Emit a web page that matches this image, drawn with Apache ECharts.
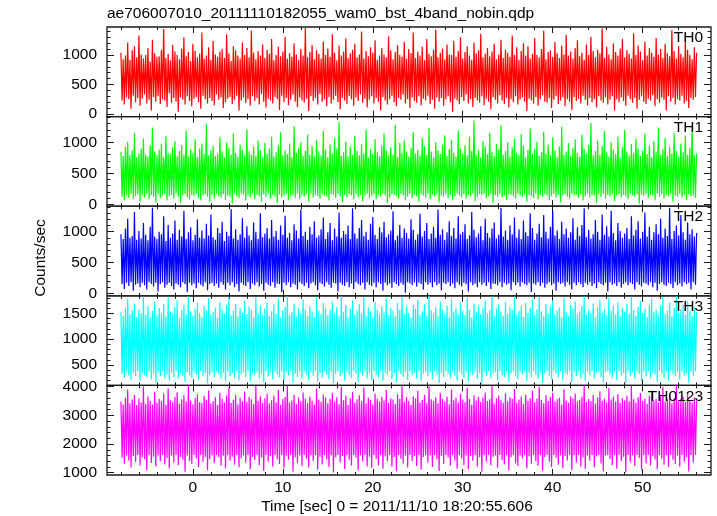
<!DOCTYPE html>
<html><head><meta charset="utf-8">
<script src="https://cdn.jsdelivr.net/npm/echarts@6/dist/echarts.min.js"></script>
<style>html,body{margin:0;padding:0;background:#fff}#c{width:717px;height:516px}</style>
</head><body><div id="c"></div>
<script>
// ---- data (estimated from the reference light curves; alternating high / low excursions, 0.125 s spacing) ----
const T_START = -8;
const T_STEP = 0.125;
const TITLE = 'ae706007010_20111110182055_wam0_bst_4band_nobin.qdp';
const X_NAME = 'Time [sec] 0 = 2011/11/10 18:20:55.606';
const Y_NAME = 'Counts/sec';
const PANEL_NAMES = ['TH0', 'TH1', 'TH2', 'TH3', 'TH0123'];

const X_MAJOR = [0, 10, 20, 30, 40, 50];
const X_MINOR = [-8,-6,-4,-2,0,2,4,6,8,10,12,14,16,18,20,22,24,26,28,30,32,34,36,38,40,42,44,46,48,50,52,54,56];

const Y_MAJOR_TH0 = [0, 500, 1000];
const Y_MINOR_TH0 = [0,100,200,300,400,500,600,700,800,900,1000,1100,1200,1300,1400];
const Y_MAJOR_TH1 = [0, 500, 1000];
const Y_MINOR_TH1 = [0,100,200,300,400,500,600,700,800,900,1000,1100,1200,1300,1400];
const Y_MAJOR_TH2 = [0, 500, 1000];
const Y_MINOR_TH2 = [0,100,200,300,400,500,600,700,800,900,1000,1100,1200,1300,1400];
const Y_MAJOR_TH3 = [500, 1000, 1500];
const Y_MINOR_TH3 = [200,300,400,500,600,700,800,900,1000,1100,1200,1300,1400,1500,1600,1700,1800];
const Y_MAJOR_TH0123 = [1000, 2000, 3000, 4000];
const Y_MINOR_TH0123 = [1000,1200,1400,1600,1800,2000,2200,2400,2600,2800,3000,3200,3400,3600,3800,4000];

const TH0 = [
1040,230,930,160,990,280,1210,250,920,90,1080,310,1150,200,960,270,
1330,140,1010,260,940,330,1000,180,1120,240,890,60,1260,290,1030,210,
970,300,980,170,1090,250,1440,230,950,120,1020,350,910,190,1170,270,
1060,210,1000,40,930,280,1110,240,1300,160,980,300,1050,220,900,130,
1190,260,1070,290,960,200,1020,90,1380,310,940,250,990,180,1130,270,
920,220,1240,150,1010,330,970,240,1060,280,1100,100,950,200,1350,260,
1030,290,900,170,1150,240,1080,310,990,60,940,230,1210,280,1000,190,
1120,250,960,140,1410,300,1040,220,930,270,1070,160,990,340,1180,210,
950,110,1090,260,1020,230,1270,180,910,290,1000,250,1140,70,980,310,
1060,200,1310,270,940,150,1030,240,970,330,1200,210,1010,120,920,280,
1100,230,990,190,1460,260,960,50,1050,300,1170,220,930,270,1080,160,
1020,340,940,210,1230,250,1000,130,1110,290,970,180,1350,240,1040,310,
910,200,1160,80,990,270,1060,230,1280,170,950,300,1030,250,1090,140,
1190,280,960,220,1010,330,1400,190,940,260,1070,110,980,240,1130,300,
1040,180,1250,270,920,210,990,60,1120,290,1010,230,960,160,1320,250,
1080,310,930,200,1050,130,1170,270,1000,240,970,330,1220,180,940,250,
1100,100,1030,280,1380,220,950,190,1060,300,990,150,1140,260,910,230,
1270,310,1020,170,980,240,1090,90,1430,280,960,210,1040,270,1110,140,
930,250,1180,300,1010,200,1000,40,1240,260,970,230,1070,170,1300,290,
940,220,1050,330,1150,180,990,250,920,120,1210,270,1030,230,1080,190,
1360,300,960,150,1020,260,1120,210,980,80,1060,290,1190,240,930,180,
1010,320,1260,230,950,170,1090,270,1040,110,970,250,1330,200,1000,300,
1130,160,920,240,1070,280,1200,210,990,50,1150,260,940,230,1020,180,
1290,290,1000,140,960,250,1100,320,1410,210,930,190,1050,270,1080,100,
970,240,1220,300,1030,170,950,230,1160,280,1010,130,1340,250,990,210,
1060,70,940,290,1120,220,1250,260,980,180,1040,310,920,240,1180,150,
1000,270,1310,200,1070,250,960,110,1090,300,1030,230,1450,190,950,280,
1140,160,1010,240,930,300,1200,60,1050,250,990,200,1110,280,1270,220,
960,140,1080,310,1020,250,940,190,1370,270,1000,90,1160,240,1060,300,
910,210,1230,170,990,260,1120,230,1040,320,970,130,1290,250,1010,190,
1100,280,950,240,1190,60,1030,300,980,210,1420,270,1070,160,940,250,
1150,230,1020,310,960,180,1260,220,1090,100,1000,270,930,240,1130,290,
1040];

const TH1 = [
840,120,780,60,930,150,1010,100,790,170,870,90,1150,130,760,160,
820,40,900,140,1060,110,800,170,770,80,950,150,1240,120,850,30,
790,160,880,100,980,140,760,170,1100,60,830,130,810,150,920,90,
1020,170,780,120,860,20,950,140,800,160,1190,110,770,80,890,150,
830,130,1050,170,760,100,900,60,980,140,810,160,1300,120,790,40,
870,150,940,90,780,170,820,130,1080,110,850,160,760,70,1000,140,
910,120,800,10,1140,160,830,130,770,100,960,170,880,150,790,60,
1210,140,850,110,800,170,930,80,780,150,1030,130,870,40,760,160,
990,120,820,170,900,90,1090,150,770,130,840,20,950,160,1160,110,
790,140,870,170,810,60,980,130,760,150,1260,100,830,170,910,80,
1000,140,780,120,860,160,1120,40,800,170,940,110,770,150,1040,130,
850,90,790,170,1180,140,880,120,760,60,960,160,820,150,1070,100,
900,170,1330,130,780,30,840,150,1010,110,770,160,930,140,800,80,
1100,170,860,120,790,150,970,50,820,140,1200,170,760,100,890,130,
810,160,1050,80,840,150,780,120,950,170,1140,140,870,20,790,110,
920,160,800,150,1280,130,760,90,990,170,830,140,1030,60,850,120,
770,170,910,100,1160,150,820,130,880,40,790,160,1070,140,940,110,
800,170,1230,80,850,150,760,130,1000,160,870,30,810,140,960,120,
1110,170,780,100,890,150,1040,60,830,130,770,170,1190,140,900,110,
820,160,950,90,790,150,1090,130,860,170,1350,50,800,120,880,160,
760,140,1020,170,930,100,810,130,1150,160,840,20,780,150,970,120,
890,170,1270,110,800,140,860,70,1000,160,770,150,920,130,1060,90,
830,170,790,140,1130,120,950,160,760,40,880,150,1220,130,810,100,
900,170,1010,80,780,150,840,120,1170,160,820,140,960,60,790,130,
1080,170,870,110,760,150,930,30,1250,140,800,160,850,120,990,90,
780,170,910,140,1050,150,830,100,770,160,1120,60,890,130,820,170,
960,110,1310,150,790,140,860,20,1030,160,800,120,940,170,1180,90,
840,150,770,130,1000,160,880,50,810,140,1090,170,760,110,920,150,
1200,130,850,80,790,170,970,140,830,120,1060,160,900,10,780,150,
870,130,1140,170,810,100,950,150,760,140,1020,60,840,170,1240,120,
800,160,890,90,1070,150,780,130,930,170,820,40,1150,140,860,120,
770,170,980,110,840,150,1110,70,800,160,910,130,1270,140,790,100,
820];

const TH2 = [
960,150,880,70,1050,170,1210,120,900,180,930,40,1320,140,870,160,
1010,100,890,170,1140,130,950,60,860,180,1080,150,1390,110,920,170,
880,30,1000,150,960,180,1250,90,850,140,1110,170,900,120,970,60,
1180,160,870,140,1030,100,920,180,1340,150,880,20,990,170,1070,130,
860,160,950,80,1200,170,900,140,1020,110,890,180,1130,50,940,150,
1280,170,910,120,870,160,1060,90,980,180,1160,140,850,60,1000,170,
930,130,1370,180,890,100,1040,150,870,30,960,170,1220,140,900,120,
1090,180,940,70,860,160,1150,130,1000,180,880,110,1300,150,910,40,
970,170,1060,140,890,120,1190,180,920,90,1010,160,870,150,1100,20,
950,170,1260,130,900,180,980,100,860,160,1120,140,1020,60,890,180,
1360,150,930,120,1000,170,870,80,1080,160,960,180,1170,130,900,50,
940,170,1040,150,1230,110,880,180,990,140,1140,90,860,170,1050,160,
920,30,1310,170,900,140,1010,120,960,180,1100,100,880,160,1380,70,
970,180,890,150,1060,130,1190,170,930,60,1000,180,870,140,1130,120,
1240,170,950,100,880,180,1070,150,990,40,1160,170,910,130,960,160,
1020,90,1330,180,860,150,940,120,1110,170,900,140,1050,10,980,180,
890,160,1200,130,1030,180,870,110,960,170,1290,150,920,60,1010,180,
1140,140,880,170,970,100,1080,180,900,130,1360,160,950,50,1040,170,
870,150,990,180,1170,120,930,160,1060,80,890,180,1250,140,960,110,
1000,170,1120,150,880,30,940,180,1320,130,1030,160,910,100,970,180,
1090,140,860,170,1210,120,980,180,900,70,1050,160,1150,150,890,130,
950,180,1390,100,920,170,1020,140,870,160,1100,50,960,180,1230,130,
900,170,1040,110,880,180,1180,150,990,130,930,170,1300,20,1060,160,
870,140,970,180,1130,120,910,170,1270,90,1000,150,890,180,1080,130,
1350,160,940,40,1020,180,880,150,1160,170,960,110,1050,180,900,140,
990,60,1220,170,870,130,1070,180,930,150,1110,100,1380,170,910,140,
1030,180,890,120,960,160,1190,80,1000,180,870,150,1280,130,950,170,
1090,30,920,180,1340,140,980,160,860,120,1140,180,1010,90,900,150,
970,180,1060,130,880,170,1250,150,940,60,1030,180,1170,140,890,110,
1000,170,1310,160,920,130,1080,180,870,100,990,170,1120,40,960,150,
1210,180,900,140,1050,120,930,170,1390,150,880,80,1010,180,1100,130,
940,160,1270,110,990,180,870,150,1150,170,960,60,1040,180,920,140,
980];

const TH3 = [
1520,330,1450,250,1610,370,1780,290,1480,210,1560,350,1690,280,1430,380,
1580,190,1500,340,1820,300,1470,260,1640,370,1420,220,1550,330,1730,150,
1460,360,1600,280,1510,380,1680,240,1440,310,1800,200,1530,350,1490,270,
1620,380,1750,230,1410,330,1570,290,1660,170,1480,360,1830,300,1540,250,
1450,370,1590,320,1700,210,1500,380,1430,280,1640,340,1560,140,1790,300,
1470,360,1530,260,1610,380,1420,330,1720,230,1580,350,1490,190,1660,370,
1810,290,1460,340,1550,250,1680,380,1440,200,1600,320,1510,360,1740,270,
1480,380,1630,180,1570,340,1430,300,1820,370,1500,240,1650,330,1460,160,
1590,380,1710,280,1450,350,1540,220,1670,370,1490,310,1780,260,1420,380,
1560,200,1620,360,1830,300,1470,380,1530,150,1690,330,1440,270,1600,370,
1500,240,1760,380,1580,320,1450,210,1640,360,1520,290,1430,380,1800,180,
1550,340,1480,260,1700,380,1610,310,1460,230,1570,370,1730,140,1490,330,
1620,380,1440,280,1830,350,1530,200,1660,370,1420,300,1590,250,1750,380,
1470,330,1560,170,1680,360,1500,290,1810,380,1450,240,1610,340,1540,210,
1430,380,1720,310,1580,260,1490,370,1640,190,1520,350,1790,300,1460,380,
1600,230,1550,340,1440,160,1700,380,1570,320,1820,270,1480,360,1630,210,
1510,380,1420,300,1660,350,1590,240,1760,380,1470,190,1540,330,1680,370,
1450,280,1830,360,1560,220,1500,380,1620,310,1440,150,1730,350,1580,270,
1490,380,1650,330,1430,240,1780,370,1530,290,1600,200,1470,380,1710,320,
1550,260,1460,370,1800,180,1570,350,1420,300,1690,380,1520,230,1640,340,
1480,140,1610,370,1740,290,1500,380,1560,250,1830,330,1440,360,1590,210,
1670,380,1530,300,1450,260,1720,370,1490,170,1620,340,1570,380,1810,280,
1460,230,1550,360,1650,320,1430,380,1700,190,1510,350,1600,270,1770,380,
1470,310,1580,240,1820,370,1540,150,1440,340,1680,380,1500,290,1630,220,
1750,380,1480,330,1560,260,1610,370,1420,200,1790,350,1520,310,1450,380,
1660,170,1590,360,1730,280,1490,380,1540,240,1640,330,1830,190,1470,370,
1570,300,1500,380,1690,230,1430,350,1620,380,1760,270,1510,160,1580,360,
1460,380,1800,320,1550,250,1650,370,1480,210,1710,380,1440,300,1600,340,
1530,150,1680,380,1490,290,1820,360,1560,230,1450,380,1620,330,1740,190,
1500,370,1590,280,1430,380,1670,240,1780,350,1520,310,1570,170,1460,380,
1640,330,1810,260,1480,370,1550,200,1700,380,1440,320,1600,280,1830,360,
1510,220,1580,380,1660,300,1470,340,1730,150,1540,370,1450,290,1620,380,
1520];

const TH0123 = [
3480,1520,3380,1310,3620,1600,3900,1430,3420,1180,3550,1580,3710,1370,3360,1620,
3590,1250,3450,1540,4010,1470,3400,1080,3660,1610,3510,1340,3380,1560,3820,1220,
3440,1600,3570,1400,3500,1620,3760,1290,3370,1510,3940,1150,3530,1590,3460,1360,
3640,1620,3810,1270,3410,1550,3560,1450,3700,1030,3480,1600,4040,1410,3520,1300,
3390,1620,3600,1500,3740,1200,3460,1610,3430,1380,3680,1560,3540,1090,3870,1470,
3410,1600,3500,1330,3630,1620,3360,1540,3780,1240,3580,1590,3450,1150,3690,1610,
3960,1420,3430,1560,3540,1280,3720,1620,3380,1190,3610,1500,3490,1600,3830,1350,
3470,1620,3650,1120,3560,1550,3400,1440,4020,1610,3510,1260,3670,1530,3440,1060,
3600,1620,3750,1380,3420,1580,3530,1210,3690,1610,3460,1470,3890,1300,3370,1620,
3570,1160,3640,1590,4030,1450,3450,1620,3520,1040,3710,1540,3400,1330,3620,1600,
3490,1230,3800,1620,3580,1490,3430,1180,3660,1600,3510,1410,3380,1620,3940,1100,
3550,1560,3470,1290,3730,1620,3620,1460,3420,1200,3570,1610,3770,1010,3480,1540,
3630,1620,3390,1360,4000,1580,3530,1130,3680,1610,3360,1450,3590,1250,3820,1620,
3450,1530,3560,1090,3700,1600,3500,1390,3980,1620,3410,1220,3610,1560,3540,1170,
3380,1620,3760,1480,3580,1260,3480,1610,3650,1140,3520,1570,3880,1400,3440,1620,
3600,1210,3550,1550,3400,1050,3740,1620,3570,1490,4040,1320,3470,1600,3640,1190,
3510,1620,3370,1410,3670,1580,3590,1230,3850,1620,3460,1110,3540,1550,3720,1610,
3430,1350,4010,1600,3560,1200,3500,1620,3630,1470,3420,1060,3790,1580,3580,1300,
3480,1620,3660,1530,3390,1250,3900,1610,3530,1430,3610,1140,3450,1620,3750,1500,
3550,1270,3460,1600,3960,1120,3570,1580,3370,1420,3690,1620,3520,1220,3640,1540,
3470,1030,3620,1610,3800,1390,3500,1620,3560,1260,4030,1560,3410,1600,3590,1170,
3680,1620,3530,1440,3440,1290,3770,1610,3490,1080,3630,1550,3570,1620,3920,1330,
3450,1230,3550,1600,3660,1500,3400,1620,3720,1150,3510,1570,3600,1310,3860,1620,
3460,1400,3580,1240,4000,1610,3540,1070,3420,1550,3700,1620,3500,1380,3640,1200,
3790,1620,3480,1520,3560,1280,3610,1600,3380,1160,3910,1580,3520,1430,3440,1620,
3670,1090,3590,1610,3760,1350,3490,1620,3540,1210,3650,1540,4040,1130,3470,1600,
3570,1420,3500,1620,3710,1190,3410,1570,3620,1620,3840,1320,3510,1050,3580,1600,
3450,1620,3950,1480,3550,1260,3660,1610,3480,1140,3740,1620,3430,1400,3600,1560,
3530,1020,3690,1620,3490,1370,4020,1600,3560,1230,3440,1620,3630,1510,3780,1100,
3500,1610,3590,1330,3400,1620,3680,1250,3870,1580,3520,1460,3570,1120,3460,1620,
3650,1490,3990,1280,3480,1610,3550,1190,3730,1620,3420,1450,3600,1300,4030,1600,
3510,1210,3580,1620,3670,1380,3470,1540,3800,1040,3540,1610,3450,1350,3620,1620,
3500];

// ---- layout / style ----
const FONT = '"Liberation Sans", Arial, Helvetica, sans-serif';
const FS = 15.5;
const X_MIN = -9.55, X_MAX = 57.6;
const GRID_TOP = 27, PANEL_H = 89.6, GRID_LEFT = 107, GRID_RIGHT = 6;
const FRAME = '#1a1a1a';

const panels = [
  {name: PANEL_NAMES[0], color: '#ff0000', values: TH0, yMin: -44, yMax: 1475, major: Y_MAJOR_TH0, minor: Y_MINOR_TH0},
  {name: PANEL_NAMES[1], color: '#00ff00', values: TH1, yMin: -31, yMax: 1414, major: Y_MAJOR_TH1, minor: Y_MINOR_TH1},
  {name: PANEL_NAMES[2], color: '#0000ff', values: TH2, yMin: -41, yMax: 1414, major: Y_MAJOR_TH2, minor: Y_MINOR_TH2},
  {name: PANEL_NAMES[3], color: '#00ffff', values: TH3, yMin: 105, yMax: 1838, major: Y_MAJOR_TH3, minor: Y_MINOR_TH3},
  {name: PANEL_NAMES[4], color: '#ff00ff', values: TH0123, yMin: 920, yMax: 4045, major: Y_MAJOR_TH0123, minor: Y_MINOR_TH0123}
];

const grids = [], xAxes = [], yAxes = [], series = [], graphics = [];

function tickAxis(g, pos, min, max, vals, len, labelOpt) {
  return {
    type: 'value', gridIndex: g, position: pos, min: min, max: max,
    axisLine: {show: false, onZero: false}, splitLine: {show: false},
    axisTick: {show: true, inside: true, length: len, customValues: vals, lineStyle: {color: FRAME, width: 1}},
    axisLabel: labelOpt ? Object.assign({show: true, customValues: vals, color: '#000', fontSize: FS, fontFamily: FONT,
      formatter: function (v) { return String(v); }}, labelOpt) : {show: false}
  };
}

panels.forEach((p, g) => {
  const top = GRID_TOP + g * PANEL_H;
  grids.push({left: GRID_LEFT, right: GRID_RIGHT, top: top, height: PANEL_H, show: true,
    borderColor: FRAME, borderWidth: 1.3, backgroundColor: 'transparent'});
  const last = g === panels.length - 1;
  const xi = xAxes.length, yi = yAxes.length;
  xAxes.push(tickAxis(g, 'bottom', X_MIN, X_MAX, X_MAJOR, 6, last ? {margin: 5} : null));
  xAxes.push(tickAxis(g, 'bottom', X_MIN, X_MAX, X_MINOR, 3, null));
  xAxes.push(tickAxis(g, 'top', X_MIN, X_MAX, X_MAJOR, 6, null));
  xAxes.push(tickAxis(g, 'top', X_MIN, X_MAX, X_MINOR, 3, null));
  yAxes.push(tickAxis(g, 'left', p.yMin, p.yMax, p.major, 7, {margin: 10}));
  yAxes.push(tickAxis(g, 'left', p.yMin, p.yMax, p.minor, 3.5, null));
  yAxes.push(tickAxis(g, 'right', p.yMin, p.yMax, p.major, 7, null));
  yAxes.push(tickAxis(g, 'right', p.yMin, p.yMax, p.minor, 3.5, null));
  series.push({
    type: 'line', name: p.name, xAxisIndex: xi, yAxisIndex: yi,
    data: p.values.map((v, k) => [T_START + k * T_STEP, v]),
    showSymbol: false, symbol: 'none', sampling: null, clip: true,
    lineStyle: {color: p.color, width: 1.2}, itemStyle: {color: p.color},
    emphasis: {disabled: true}, silent: true, z: 1
  });
  graphics.push({type: 'text', right: 14, top: top + 3,
    style: {text: p.name, fill: '#000', font: FS + 'px ' + FONT}, z: 10});
});

graphics.push({type: 'text', x: 41, y: 258, rotation: Math.PI / 2,
  style: {text: Y_NAME, fill: '#000', font: FS + 'px ' + FONT, align: 'center', verticalAlign: 'middle'}});
graphics.push({type: 'text', x: 397, y: 507,
  style: {text: X_NAME, fill: '#000', font: FS + 'px ' + FONT, align: 'center', verticalAlign: 'middle'}});

const chart = echarts.init(document.getElementById('c'), null, {renderer: 'canvas'});
chart.setOption({
  animation: false,
  backgroundColor: '#fff',
  title: {text: TITLE, left: 107, top: 6, padding: 0,
    textStyle: {color: '#000', fontSize: FS, fontWeight: 'normal', fontFamily: FONT}},
  grid: grids, xAxis: xAxes, yAxis: yAxes, series: series, graphic: graphics,
  tooltip: {show: false}
});
</script></body></html>
